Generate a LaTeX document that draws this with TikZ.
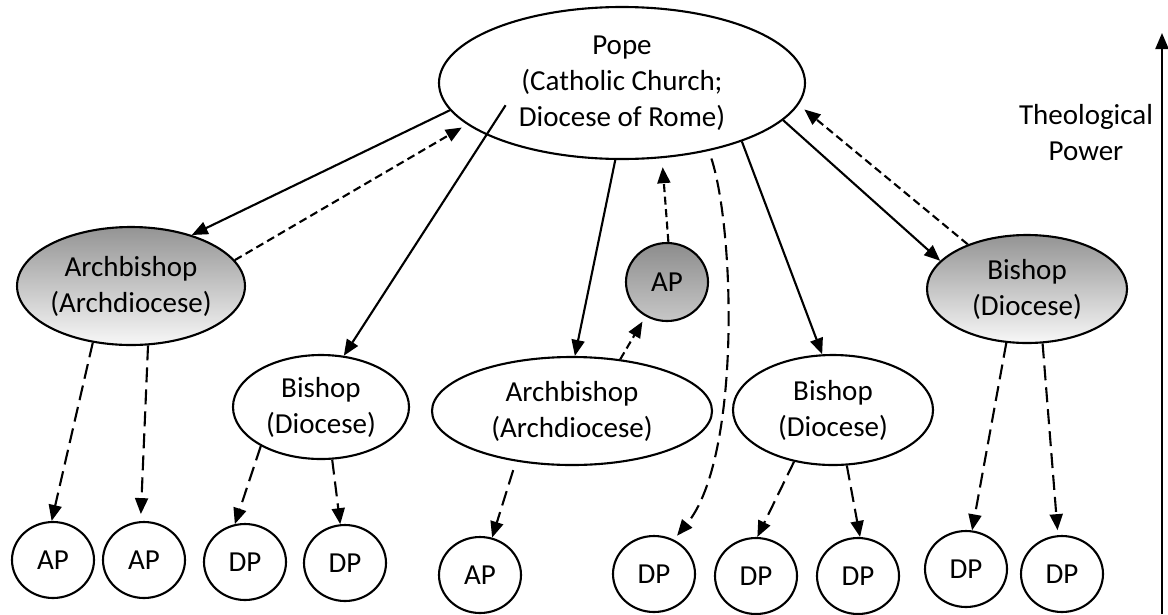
\documentclass[tikz,border=0pt]{standalone}
\usepackage{fontspec}
\setmainfont{Carlito}
\usetikzlibrary{shapes.geometric,arrows.meta}

\begin{document}
\begin{tikzpicture}[scale=0.2]
	\tikzstyle{every node}+=[inner sep=0pt, align=center, font=\fontsize{16.5}{20.5}\selectfont]
	\tikzstyle{oval}=[draw, ellipse, line width=1.2pt]
	\tikzstyle{shadedoval}=[oval, top color=black!42, bottom color=black!3]
	\tikzstyle{pcircle}=[oval, minimum width=1.64cm, minimum height=1.52cm]
	\tikzstyle{solidarr}=[line width=1.2pt, -{Triangle[length=0.32cm,width=0.26cm]}]
	\tikzstyle{uparr}=[solidarr, dash pattern=on 0.16cm off 0.09cm]
	\tikzstyle{downarr}=[solidarr, dash pattern=on 0.3cm off 0.14cm]
	\useasboundingbox (0,0) rectangle (116.8,-61.4);
	\node [oval, minimum width=7.32cm, minimum height=3.04cm] (pope) at (62.2,-8.3) {Pope\\(Catholic Church;\\Diocese of Rome)};
	\node [shadedoval, minimum width=4.4cm, minimum height=2.36cm] (archL) at (13.1,-28.6) {Archbishop\\(Archdiocese)};
	\node [oval, minimum width=3.52cm, minimum height=2.08cm] (bishopL) at (32.1,-40.7) {Bishop\\(Diocese)};
	\node [oval, minimum width=5.6cm, minimum height=2.16cm] (archM) at (57.2,-41.1) {Archbishop\\(Archdiocese)};
	\node [oval, top color=black!45, bottom color=black!22, minimum width=1.64cm, minimum height=1.56cm] (apG) at (66.7,-28.2) {AP};
	\node [oval, minimum width=4.0cm, minimum height=2.2cm] (bishopM) at (83.3,-41.0) {Bishop\\(Diocese)};
	\node [shadedoval, minimum width=4.0cm, minimum height=2.16cm] (bishopR) at (102.7,-28.9) {Bishop\\(Diocese)};
	\node [pcircle] (apA) at (5.3,-56.0) {AP};
	\node [pcircle] (apB) at (14.4,-56.0) {AP};
	\node [pcircle] (dpA) at (24.5,-56.2) {DP};
	\node [pcircle] (dpB) at (34.5,-56.3) {DP};
	\node [pcircle] (apC) at (48.0,-57.5) {AP};
	\node [pcircle] (dpC) at (65.4,-57.4) {DP};
	\node [pcircle] (dpD) at (75.6,-57.6) {DP};
	\node [pcircle] (dpE) at (85.8,-57.6) {DP};
	\node [pcircle] (dpF) at (96.6,-56.9) {DP};
	\node [pcircle] (dpG) at (106.2,-57.4) {DP};
	\node (powLbl) at (108.6,-13.3) {Theological\\Power};
	\coordinate (powFoot) at (116.2,-61.4);
	\coordinate (powHead) at (116.2,-3.3);
	\draw [solidarr] (pope.189) -- (archL.40);
	\draw [uparr, shorten >=0.12cm] (archL.14) -- (pope.195);
	\draw [solidarr, shorten <=-0.71cm] (pope.201) -- (bishopL.66);
	\draw [solidarr] (pope.265) -- (archM.87);
	\draw [uparr, shorten >=0.18cm] (apG.88) -- (pope.298);
	\draw [downarr, shorten <=0.16cm, shorten >=0.1cm] (pope.322) .. controls +(2.6,-8.0) and +(6.7,8.1) .. (dpC.60);
	\draw [solidarr] (pope.334) -- (bishopM.101);
	\draw [solidarr] (pope.347) -- (bishopR.162);
	\draw [uparr, shorten >=0.15cm] (bishopR.143) -- (pope.353);
	\draw [uparr, shorten >=0.12cm] (archM.47) -- (apG.238);
	\draw [downarr] (archL.236) -- (apA.92);
	\draw [downarr, shorten >=0.14cm] (archL.286) -- (apB.95);
	\draw [downarr] (bishopL.213) -- (dpA.105);
	\draw [downarr] (bishopL.282) -- (dpB.97);
	\draw [downarr, shorten <=0.18cm] (archM.222) -- (apC.72);
	\draw [downarr] (bishopM.233) -- (dpD.88);
	\draw [downarr] (bishopM.284) -- (dpE.87);
	\draw [downarr] (bishopR.249) -- (dpF.81);
	\draw [downarr, shorten >=0.1cm] (bishopR.286) -- (dpG.96);
	\draw [solidarr] (powFoot) -- (powHead);
\end{tikzpicture}
\end{document}
